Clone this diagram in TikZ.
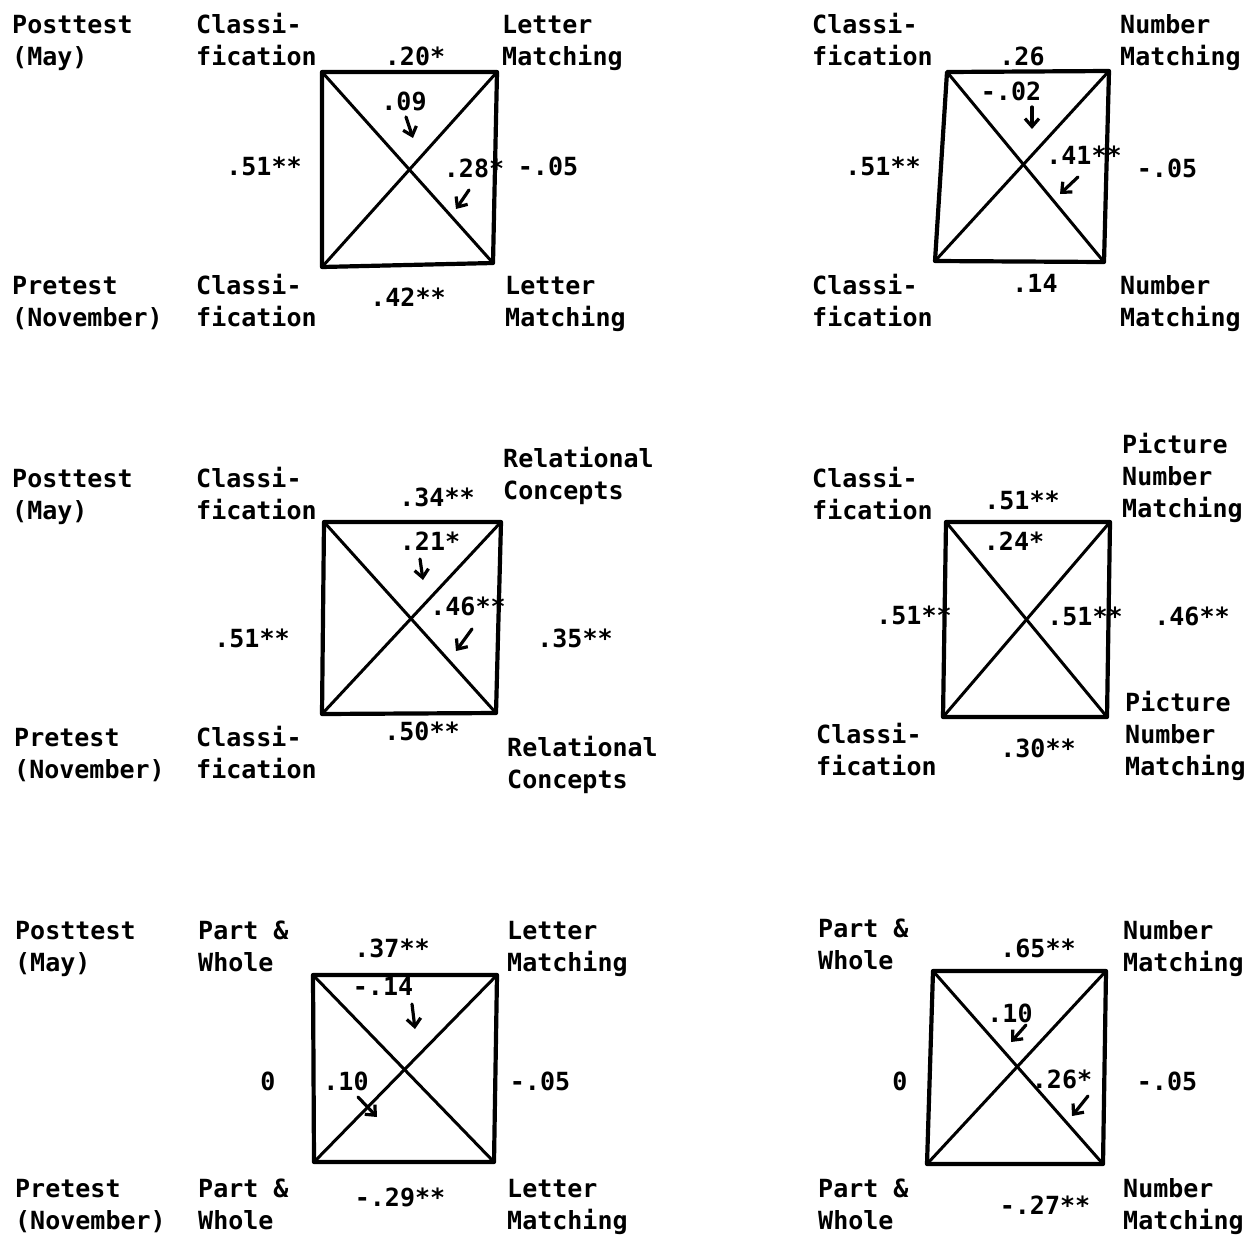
\documentclass[tikz,border=0pt]{standalone}
\usepackage{fontspec}
\setmonofont{DejaVu Sans Mono}
\usetikzlibrary{arrows.meta}
\tikzset{
  lbl/.style={anchor=base west, inner sep=0pt, font=\fontsize{25}{30}\selectfont\ttfamily\bfseries},
  num/.style={anchor=base, inner sep=0pt, font=\fontsize{25}{30}\selectfont\ttfamily\bfseries},
  boxline/.style={line width=4.2pt, line join=round, line cap=round},
  diagline/.style={line width=3pt, line cap=round},
  arr/.style={line width=3.2pt, line cap=round, -{Straight Barb[length=8pt,width=14pt,line width=3.2pt]}},
}
\newcommand\twolab[5]{%
  \node[lbl] (#1a) at (#2,#3) {#4};
  \node[lbl] (#1b) at (#2,#3+32) {#5};}
\newcommand\threelab[6]{%
  \node[lbl] (#1a) at (#2,#3) {#4};
  \node[lbl] (#1b) at (#2,#3+32) {#5};
  \node[lbl] (#1c) at (#2,#3+64) {#6};}
\newcommand\sqpanel[1]{%
  \draw[boxline] (#1tl) -- (#1tr) -- (#1br) -- (#1bl) -- cycle;
  \draw[diagline] (#1tl) -- (#1br);
  \draw[diagline] (#1tr) -- (#1bl);}
\begin{document}
\begin{tikzpicture}[x=1pt,y=-1pt]
\useasboundingbox[fill=white] (0,0) rectangle (1260,1237);

% ---------- Row 1 ----------
\twolab{postA}{12}{33}{Posttest}{(May)}
\twolab{preA}{12}{294}{Pretest}{(November)}
% panel 1
\coordinate (pAtl) at (322,72); \coordinate (pAtr) at (497,72);
\coordinate (pAbr) at (493,263); \coordinate (pAbl) at (322,267);
\sqpanel{pA}
\twolab{aTL}{196}{33}{Classi-}{fication}
\twolab{aTR}{502}{33}{Letter}{Matching}
\twolab{aBL}{196}{294}{Classi-}{fication}
\twolab{aBR}{505}{294}{Letter}{Matching}
\node[num] (aTop) at (415,65) {.20*};
\node[num] (aD1) at (404,110) {.09};
\node[num] (aLeft) at (264,175) {.51**};
\node[num] (aD2) at (474,177) {.28*};
\node[num] (aRight) at (548,175) {-.05};
\node[num] (aBot) at (408,306) {.42**};
\coordinate (aA1s) at (406,117); \coordinate (aA1e) at (413,138);
\coordinate (aA2s) at (469,190); \coordinate (aA2e) at (456,209);
\draw[arr] (aA1s) -- (aA1e);
\draw[arr] (aA2s) -- (aA2e);

% panel 2
\coordinate (pBtl) at (947,72); \coordinate (pBtr) at (1109,71);
\coordinate (pBbr) at (1104,262); \coordinate (pBbl) at (935,261);
\sqpanel{pB}
\twolab{bTL}{812}{33}{Classi-}{fication}
\twolab{bTR}{1120}{33}{Number}{Matching}
\twolab{bBL}{812}{294}{Classi-}{fication}
\twolab{bBR}{1120}{294}{Number}{Matching}
\node[num] (bTop) at (1022,65) {.26};
\node[num] (bD1) at (1011,100) {-.02};
\node[num] (bLeft) at (883,175) {.51**};
\node[num] (bD2) at (1084,164) {.41**};
\node[num] (bRight) at (1167,177) {-.05};
\node[num] (bBot) at (1035,292) {.14};
\coordinate (bA1s) at (1032,107); \coordinate (bA1e) at (1032,129);
\coordinate (bA2s) at (1078,177); \coordinate (bA2e) at (1060,194);
\draw[arr] (bA1s) -- (bA1e);
\draw[arr] (bA2s) -- (bA2e);

% ---------- Row 2 ----------
\twolab{postB}{12}{487}{Posttest}{(May)}
\twolab{preB}{14}{746}{Pretest}{(November)}
% panel 3
\coordinate (pCtl) at (324,522); \coordinate (pCtr) at (501,522);
\coordinate (pCbr) at (496,713); \coordinate (pCbl) at (322,714);
\sqpanel{pC}
\twolab{cTL}{196}{487}{Classi-}{fication}
\twolab{cTR}{503}{467}{Relational}{Concepts}
\twolab{cBL}{196}{746}{Classi-}{fication}
\twolab{cBR}{507}{756}{Relational}{Concepts}
\node[num] (cTop) at (437,506) {.34**};
\node[num] (cD1) at (430,550) {.21*};
\node[num] (cLeft) at (252,647) {.51**};
\node[num] (cD2) at (468,615) {.46**};
\node[num] (cRight) at (575,647) {.35**};
\node[num] (cBot) at (422,740) {.50**};
\coordinate (cA1s) at (420,559); \coordinate (cA1e) at (423,580);
\coordinate (cA2s) at (472,629); \coordinate (cA2e) at (456,651);
\draw[arr] (cA1s) -- (cA1e);
\draw[arr] (cA2s) -- (cA2e);

% panel 4
\coordinate (pDtl) at (946,522); \coordinate (pDtr) at (1110,522);
\coordinate (pDbr) at (1107,717); \coordinate (pDbl) at (943,717);
\sqpanel{pD}
\twolab{dTL}{812}{487}{Classi-}{fication}
\threelab{dTR}{1122}{453}{Picture}{Number}{Matching}
\twolab{dBL}{816}{743}{Classi-}{fication}
\threelab{dBR}{1125}{711}{Picture}{Number}{Matching}
\node[num] (dTop) at (1022,509) {.51**};
\node[num] (dD1) at (1014,550) {.24*};
\node[num] (dLeft) at (914,624) {.51**};
\node[num] (dD2) at (1085,625) {.51**};
\node[num] (dRight) at (1192,625) {.46**};
\node[num] (dBot) at (1038,757) {.30**};

% ---------- Row 3 ----------
\twolab{postC}{15}{939}{Posttest}{(May)}
\twolab{preC}{15}{1197}{Pretest}{(November)}
% panel 5
\coordinate (pEtl) at (313,975); \coordinate (pEtr) at (497,975);
\coordinate (pEbr) at (494,1162); \coordinate (pEbl) at (314,1162);
\sqpanel{pE}
\twolab{eTL}{198}{939}{Part \&}{Whole}
\twolab{eTR}{507}{939}{Letter}{Matching}
\twolab{eBL}{198}{1197}{Part \&}{Whole}
\twolab{eBR}{507}{1197}{Letter}{Matching}
\node[num] (eTop) at (392,957) {.37**};
\node[num] (eD1) at (383,995) {-.14};
\node[num] (eLeft) at (268,1090) {0};
\node[num] (eD2) at (346,1090) {.10};
\node[num] (eRight) at (540,1090) {-.05};
\node[num] (eBot) at (400,1206) {-.29**};
\coordinate (eA1s) at (412,1004); \coordinate (eA1e) at (415,1029);
\coordinate (eA2s) at (358,1097); \coordinate (eA2e) at (377,1117);
\draw[arr] (eA1s) -- (eA1e);
\draw[arr] (eA2s) -- (eA2e);

% panel 6
\coordinate (pFtl) at (933,971); \coordinate (pFtr) at (1106,971);
\coordinate (pFbr) at (1103,1164); \coordinate (pFbl) at (927,1164);
\sqpanel{pF}
\twolab{fTL}{818}{937}{Part \&}{Whole}
\twolab{fTR}{1123}{939}{Number}{Matching}
\twolab{fBL}{818}{1197}{Part \&}{Whole}
\twolab{fBR}{1123}{1197}{Number}{Matching}
\node[num] (fTop) at (1038,957) {.65**};
\node[num] (fD1) at (1010,1022) {.10};
\node[num] (fLeft) at (900,1090) {0};
\node[num] (fD2) at (1062,1088) {.26*};
\node[num] (fRight) at (1167,1090) {-.05};
\node[num] (fBot) at (1045,1214) {-.27**};
\coordinate (fA1s) at (1026,1025); \coordinate (fA1e) at (1011,1042);
\coordinate (fA2s) at (1088,1096); \coordinate (fA2e) at (1072,1116);
\draw[arr] (fA1s) -- (fA1e);
\draw[arr] (fA2s) -- (fA2e);
\end{tikzpicture}
\end{document}
